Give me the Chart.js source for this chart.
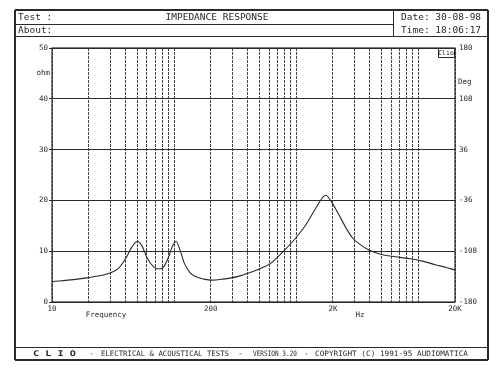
<!DOCTYPE html>
<html>
<head>
<meta charset="utf-8">
<script src="https://cdn.jsdelivr.net/npm/chart.js@4.4.0/dist/chart.umd.min.js"></script>
<style>
html,body{margin:0;padding:0;background:#fff;}
canvas{display:block;}
</style>
</head>
<body>
<canvas id="c" width="500" height="375" style="width:500px;height:375px"></canvas>
<script>
// ---- data ----
const freqHz = [10,15,20,25,30,35,40,45,50,55,60,68,75,82,90,97,104,112,122,135,150,175,205,250,330,420,520,610,780,1000,1200,1450,1650,1750,1900,2200,2600,2900,3400,3900,5100,6500,8600,11000,14000,17000,20000];
const impedanceOhm = [4.0,4.4,4.8,5.2,5.7,6.6,8.5,10.8,11.9,10.9,8.7,6.9,6.5,6.9,8.8,11.0,11.9,10.2,7.5,5.8,5.0,4.5,4.3,4.5,5.0,5.8,6.7,7.5,9.9,12.7,15.2,18.5,20.6,21.0,20.1,17.5,14.3,12.6,11.2,10.3,9.3,8.9,8.5,8.0,7.3,6.8,6.3];
const gridFreqs = [10,20,30,40,50,60,70,80,90,100,200,300,400,500,600,700,800,900,1000,2000,3000,4000,5000,6000,7000,8000,9000,10000,20000];
const freqLabels = {10:'10',200:'200',2000:'2K',20000:'20K'};
const ohmTicks = [0,10,20,30,40,50];
const degTicks = [-180,-108,-36,36,108,180];
const titleText = 'IMPEDANCE RESPONSE';
const testText = 'Test :';
const aboutText = 'About:';
const dateText = 'Date: 30-08-98';
const timeText = 'Time: 18:06:17';
const footerParts = ['C L I O','-','ELECTRICAL & ACOUSTICAL TESTS','-','VERSION 3.20','-','COPYRIGHT (C) 1991-95 AUDIOMATICA'];
const leftUnit = 'ohm', rightUnit = 'Deg', xName = 'Frequency', xUnit = 'Hz', logoText = 'Clio';

const INK = '#2a2a2a';
const MONO = '"DejaVu Sans Mono", "Liberation Mono", monospace';

function fitText(ctx, txt, x0, x1, y) {
  const w = ctx.measureText(txt).width;
  const target = x1 - x0;
  ctx.save();
  ctx.translate(x0, y);
  ctx.scale(target / w, 1);
  ctx.textAlign = 'left';
  ctx.fillText(txt, 0, 0);
  ctx.restore();
}

const framePlugin = {
  id: 'frame',
  afterDraw(chart) {
    const ctx = chart.ctx;
    const ca = chart.chartArea;
    ctx.save();
    ctx.strokeStyle = INK;
    ctx.fillStyle = INK;
    // outer frame
    ctx.lineWidth = 2;
    ctx.beginPath();
    ctx.moveTo(15, 10); ctx.lineTo(488, 10);
    ctx.moveTo(15, 10); ctx.lineTo(15, 360);
    ctx.moveTo(488, 10); ctx.lineTo(488, 360);
    ctx.moveTo(15, 360); ctx.lineTo(488, 360);
    ctx.stroke();
    ctx.lineWidth = 1;
    ctx.beginPath();
    ctx.moveTo(15, 24.5); ctx.lineTo(393, 24.5);
    ctx.moveTo(15, 36.5); ctx.lineTo(488, 36.5);
    ctx.moveTo(393.5, 10); ctx.lineTo(393.5, 36);
    ctx.moveTo(15, 347.5); ctx.lineTo(488, 347.5);
    ctx.stroke();
    // header text
    ctx.font = '9.5px ' + MONO;
    ctx.textBaseline = 'middle';
    ctx.textAlign = 'left';
    ctx.fillText(testText, 18, 18);
    ctx.fillText(aboutText, 18, 31);
    ctx.fillText(dateText, 401, 18);
    ctx.fillText(timeText, 401, 31);
    ctx.textAlign = 'center';
    ctx.fillText(titleText, 217, 18);
    // footer
    ctx.font = 'bold 7.8px ' + MONO;
    fitText(ctx, footerParts[0], 33, 76, 354);
    ctx.font = '7.4px ' + MONO;
    fitText(ctx, footerParts[1], 89, 94, 354);
    fitText(ctx, footerParts[2], 101, 229, 354);
    fitText(ctx, footerParts[3], 238, 243, 354);
    fitText(ctx, footerParts[4], 253, 297, 354);
    fitText(ctx, footerParts[5], 304, 309, 354);
    fitText(ctx, footerParts[6], 315, 468, 354);
    // axis names
    ctx.font = '7.5px ' + MONO;
    ctx.textAlign = 'right';
    ctx.fillText(leftUnit, 50, 73);
    ctx.textAlign = 'left';
    ctx.fillText(rightUnit, 458, 82);
    ctx.textAlign = 'center';
    ctx.fillText(xName, 106, 315);
    ctx.fillText(xUnit, 360, 315);
    // logo box
    ctx.font = '6.5px ' + MONO;
    ctx.textAlign = 'center';
    ctx.fillText(logoText, ca.right - 9, ca.top + 5);
    ctx.beginPath();
    ctx.rect(ca.right - 16.5, ca.top + 0.5, 16, 9);
    ctx.stroke();
    // plot border
    ctx.lineWidth = 1.2;
    ctx.strokeRect(ca.left, ca.top, ca.right - ca.left, ca.bottom - ca.top);
    ctx.restore();
  }
};

new Chart(document.getElementById('c'), {
  type: 'line',
  data: {
    datasets: [{
      data: freqHz.map((f, i) => ({ x: f, y: impedanceOhm[i] })),
      borderColor: INK,
      borderWidth: 1.1,
      pointRadius: 0,
      fill: false,
      cubicInterpolationMode: 'monotone',
      yAxisID: 'y'
    }]
  },
  options: {
    responsive: false,
    animation: false,
    devicePixelRatio: 1,
    layout: { padding: { top: 48, left: 15, right: 12, bottom: 50 } },
    plugins: { legend: { display: false }, tooltip: { enabled: false }, title: { display: false } },
    scales: {
      x: {
        type: 'logarithmic',
        min: 10, max: 20000,
        afterBuildTicks: (s) => { s.ticks = gridFreqs.map(v => ({ value: v })); },
        afterFit: (s) => { s.height = 23; },
        ticks: {
          autoSkip: false, maxRotation: 0, minRotation: 0,
          padding: 3,
          color: INK,
          font: { family: MONO, size: 7.5 },
          callback: (v) => freqLabels[v] || ''
        },
        grid: {
          color: '#444',
          lineWidth: 1,
          drawTicks: false
        },
        border: { display: false, dash: [3, 1] }
      },
      y: {
        position: 'left',
        min: 0, max: 50,
        afterBuildTicks: (s) => { s.ticks = ohmTicks.map(v => ({ value: v })); },
        afterFit: (s) => { s.width = 37; },
        ticks: { color: INK, font: { family: MONO, size: 7.5 }, padding: 1 },
        grid: { color: INK, lineWidth: 1, tickLength: 3, drawTicks: true },
        border: { display: false }
      },
      y2: {
        position: 'right',
        min: -180, max: 180,
        afterBuildTicks: (s) => { s.ticks = degTicks.map(v => ({ value: v })); },
        afterFit: (s) => { s.width = 33; },
        ticks: { color: INK, font: { family: MONO, size: 7.5 }, padding: 1 },
        grid: { display: false, drawOnChartArea: false, tickLength: 3 },
        border: { display: false }
      }
    }
  },
  plugins: [framePlugin]
});
</script>
</body>
</html>
